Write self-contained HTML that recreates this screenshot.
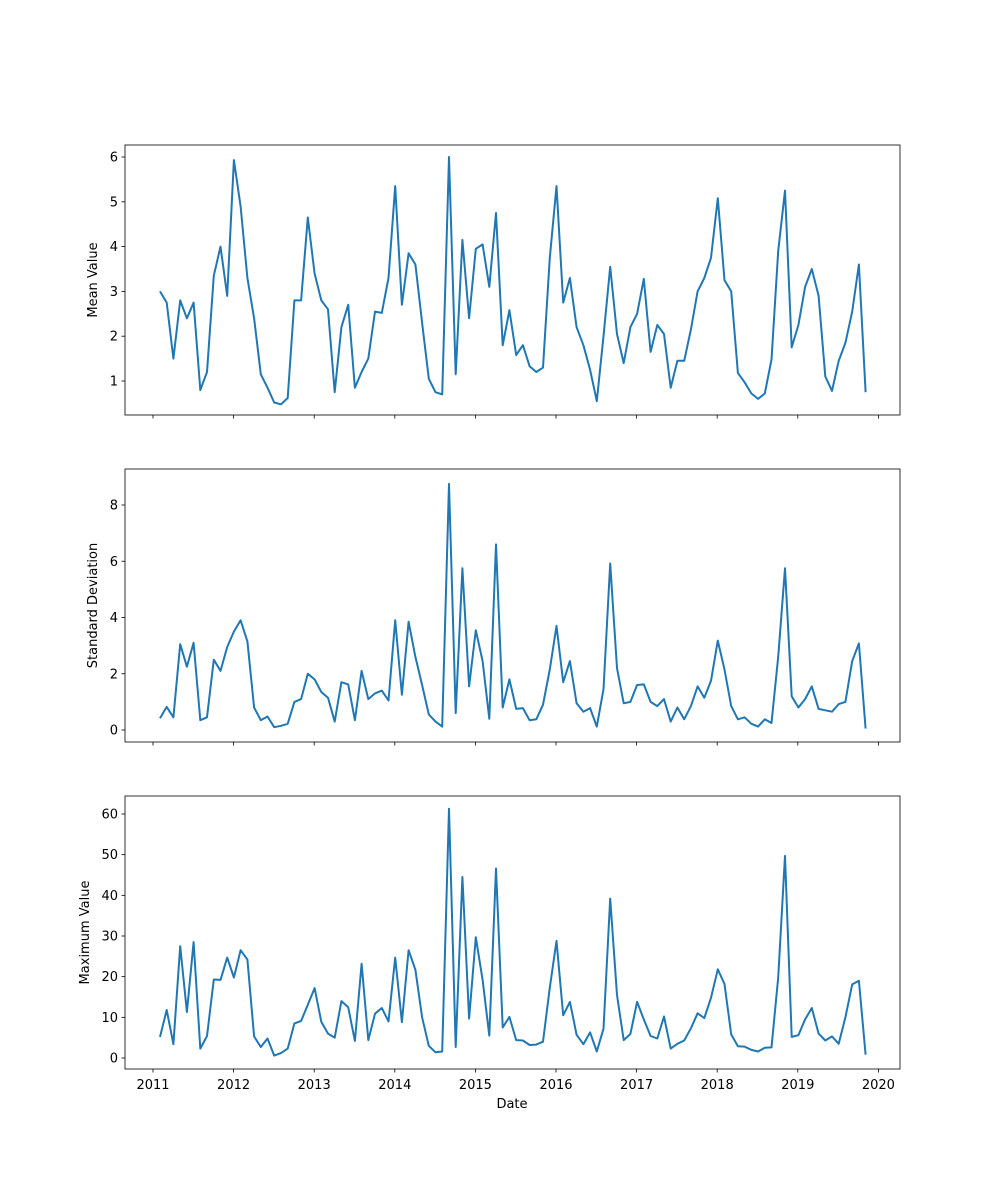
<!DOCTYPE html>
<html><head><meta charset="utf-8"><style>body{margin:0;background:#fff}svg{display:block}text{font-family:"DejaVu Sans","Liberation Sans",sans-serif;font-size:13px;fill:#000}</style></head>
<body><svg id="s" width="1000" height="1200" xmlns="http://www.w3.org/2000/svg"></svg>
<script>
const mean=[3.0,2.75,1.5,2.8,2.4,2.75,0.8,1.2,3.35,4.0,2.9,5.93,4.9,3.3,2.4,1.15,0.85,0.52,0.48,0.62,2.8,2.8,4.65,3.4,2.8,2.6,0.75,2.2,2.7,0.85,1.2,1.5,2.55,2.52,3.3,5.35,2.7,3.85,3.6,2.3,1.05,0.75,0.7,6.0,1.15,4.15,2.4,3.95,4.05,3.1,4.75,1.8,2.58,1.58,1.8,1.33,1.2,1.3,3.75,5.35,2.75,3.3,2.2,1.8,1.25,0.55,2.0,3.55,2.05,1.4,2.2,2.5,3.28,1.65,2.25,2.05,0.85,1.45,1.45,2.15,3.0,3.3,3.75,5.08,3.25,3.0,1.18,0.97,0.72,0.6,0.72,1.48,3.9,5.25,1.75,2.25,3.1,3.5,2.9,1.1,0.78,1.45,1.85,2.55,3.6,0.75];
const sd=[0.42,0.82,0.45,3.05,2.25,3.1,0.35,0.45,2.5,2.1,2.95,3.5,3.9,3.15,0.8,0.35,0.48,0.1,0.15,0.22,1.0,1.1,2.0,1.8,1.35,1.15,0.3,1.7,1.62,0.35,2.1,1.1,1.3,1.4,1.05,3.9,1.25,3.85,2.6,1.6,0.55,0.3,0.12,8.75,0.6,5.75,1.55,3.55,2.45,0.4,6.6,0.8,1.8,0.75,0.78,0.35,0.38,0.9,2.15,3.7,1.7,2.45,0.95,0.65,0.78,0.12,1.45,5.92,2.2,0.95,1.0,1.6,1.62,1.0,0.85,1.1,0.3,0.8,0.38,0.85,1.55,1.15,1.75,3.18,2.15,0.85,0.38,0.45,0.22,0.12,0.38,0.25,2.6,5.75,1.2,0.8,1.1,1.55,0.75,0.7,0.65,0.92,1.0,2.45,3.08,0.05];
const mx=[5.2,11.8,3.4,27.5,11.3,28.5,2.3,5.4,19.3,19.2,24.7,19.8,26.5,24.2,5.3,2.7,4.8,0.6,1.2,2.3,8.5,9.1,13.1,17.2,8.9,6.0,5.0,14.0,12.5,4.2,23.2,4.4,10.9,12.3,9.0,24.7,8.8,26.5,21.7,10.0,3.0,1.4,1.6,61.3,2.7,44.5,9.7,29.7,19.2,5.5,46.6,7.5,10.1,4.4,4.3,3.2,3.3,4.0,17.3,28.8,10.5,13.8,5.7,3.4,6.3,1.6,7.2,39.2,15.5,4.4,5.9,13.8,9.5,5.4,4.8,10.2,2.3,3.5,4.3,7.3,11.0,9.8,14.8,21.8,18.2,5.8,2.9,2.8,2.0,1.6,2.5,2.6,19.8,49.7,5.2,5.6,9.5,12.3,6.0,4.3,5.3,3.5,10.0,18.1,19.0,0.8];
let h='';
const X0=125,X1=900;
function panel(d,top,bot,v0,y0,v1,y1,ticks,label,lx,xl){
 const f=v=>y0+(v-v0)*(y1-y0)/(v1-v0);
 let p=d.map((v,i)=>(160+6.72*i).toFixed(1)+','+f(v).toFixed(1)).join(' ');
 h+=`<polyline points="${p}" fill="none" stroke="#1f77b4" stroke-width="2" stroke-linejoin="round"/>`;
 h+=`<rect x="${X0}" y="${top}" width="${X1-X0}" height="${bot-top}" fill="none" stroke="#000" stroke-width="0.8"/>`;
 ticks.forEach(t=>{const y=f(t);h+=`<line x1="${X0-3.5}" x2="${X0}" y1="${y}" y2="${y}" stroke="#000" stroke-width="0.8"/><text x="${X0-7}" y="${y+4.5}" text-anchor="end">${t}</text>`;});
 for(let k=0;k<10;k++){const x=153+80.6*k;h+=`<line x1="${x}" x2="${x}" y1="${bot}" y2="${bot+3.5}" stroke="#000" stroke-width="0.8"/>`;if(xl)h+=`<text x="${x}" y="${bot+20}" text-anchor="middle">${2011+k}</text>`;}
 const cy=(top+bot)/2;h+=`<text transform="translate(${lx},${cy}) rotate(-90)" text-anchor="middle">${label}</text>`;
}
panel(mean,145,415,1,381,6,157,[1,2,3,4,5,6],'Mean Value',97,false);
panel(sd,469,742,0,730,8,505,[0,2,4,6,8],'Standard Deviation',97,false);
panel(mx,796,1069,0,1058,60,814,[0,10,20,30,40,50,60],'Maximum Value',89,true);
h+=`<text x="512" y="1108" text-anchor="middle">Date</text>`;
document.getElementById('s').innerHTML=h;
</script></body></html>
